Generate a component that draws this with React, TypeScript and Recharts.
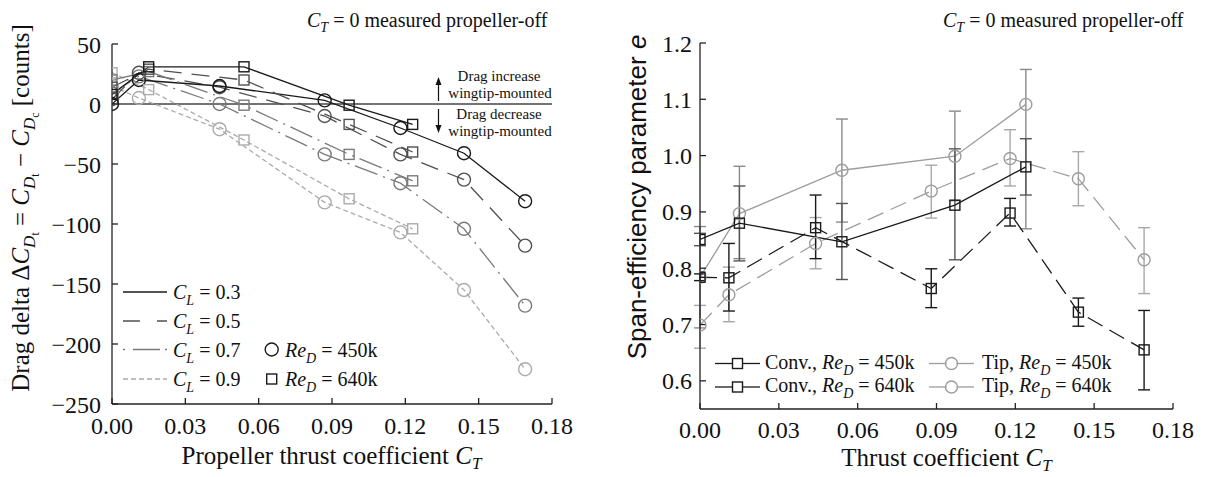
import React from 'react';
import { LineChart, Line, XAxis, YAxis, ReferenceLine, ErrorBar } from 'recharts';

const SERIF = '"Liberation Serif", "Times New Roman", serif';
const SANS = '"Liberation Sans", Arial, sans-serif';

// ---------- Left panel: drag delta (counts) ----------
const ctCircleA = [0, 0.011, 0.044, 0.087, 0.118, 0.144, 0.169];
const ctSquareA = [0, 0.015, 0.054, 0.097, 0.123];
const cl03Circle = [0, 20, 15, 3, -20, -41, -81];
const cl05Circle = [4, 26, 14, -10, -42, -63, -118];
const cl07Circle = [9, 23, 0, -42, -66, -104, -168];
const cl09Circle = [15, 5, -21, -82, -107, -155, -221];
const cl03Square = [8, 31, 31, -1, -17];
const cl05Square = [14, 29, 20, -17, -40];
const cl07Square = [20, 27, -1, -42, -64];
const cl09Square = [26, 12, -30, -79, -104];
const xTicks = [0, 0.03, 0.06, 0.09, 0.12, 0.15, 0.18];
const yTicksA = [-250, -200, -150, -100, -50, 0, 50];
const clLabels = ['0.3', '0.5', '0.7', '0.9'];

// ---------- Right panel: span efficiency ----------
const ctConv450 = [0, 0.011, 0.044, 0.088, 0.118, 0.144, 0.169];
const eConv450 = [0.784, 0.783, 0.872, 0.764, 0.898, 0.722, 0.655];
const loConv450 = [0.778, 0.724, 0.817, 0.730, 0.875, 0.697, 0.584];
const hiConv450 = [0.790, 0.844, 0.930, 0.799, 0.924, 0.747, 0.725];
const ctConv640 = [0, 0.015, 0.054, 0.097, 0.124];
const eConv640 = [0.851, 0.880, 0.847, 0.912, 0.980];
const loConv640 = [0.840, 0.813, 0.780, 0.815, 0.930];
const hiConv640 = [0.862, 0.946, 0.915, 1.012, 1.030];
const ctTip450 = [0, 0.011, 0.044, 0.088, 0.118, 0.144, 0.169];
const eTip450 = [0.699, 0.753, 0.844, 0.937, 0.995, 0.959, 0.815];
const loTip450 = [0.658, 0.705, 0.799, 0.889, 0.946, 0.911, 0.755];
const hiTip450 = [0.734, 0.802, 0.890, 0.983, 1.046, 1.007, 0.872];
const ctTip640 = [0, 0.015, 0.054, 0.097, 0.124];
const eTip640 = [0.784, 0.897, 0.974, 0.999, 1.091];
const loTip640 = [0.694, 0.817, 0.882, 0.920, 0.870];
const hiTip640 = [0.874, 0.981, 1.065, 1.079, 1.153];
const yTicksB = [0.6, 0.7, 0.8, 0.9, 1.0, 1.1, 1.2];

const zip = (xs: number[], ys: number[]) => xs.map((x, i) => ({ x, y: ys[i] }));
const zipErr = (xs: number[], ys: number[], lo: number[], hi: number[]) =>
  xs.map((x, i) => ({ x, y: ys[i], err: [ys[i] - lo[i], hi[i] - ys[i]] }));

const circleDot = (color: string, r: number) => (p: any) => {
  if (p.cx == null || p.cy == null) return <g key={`n${p.index}`} />;
  return <circle key={`c${p.index}`} cx={p.cx} cy={p.cy} r={r} fill="none" stroke={color} strokeWidth={1.4} />;
};
const squareDot = (color: string, s: number) => (p: any) => {
  if (p.cx == null || p.cy == null) return <g key={`n${p.index}`} />;
  return <rect key={`s${p.index}`} x={p.cx - s / 2} y={p.cy - s / 2} width={s} height={s} fill="none" stroke={color} strokeWidth={1.4} />;
};

const fmtA = (v: number) => (v < 0 ? '\u2212' + Math.abs(v) : String(v));
const fmtX = (v: number) => v.toFixed(2);
const fmtB = (v: number) => v.toFixed(1);

const leftSeries = [
  { c: cl09Circle, s: cl09Square, color: '#ababab', dash: '5 3', legendDash: '5 3' },
  { c: cl07Circle, s: cl07Square, color: '#7a7a7a', dash: '24 6 2 6', legendDash: '2 8 27 5 2 20' },
  { c: cl05Circle, s: cl05Square, color: '#505050', dash: '18 10', legendDash: '17 17 20' },
  { c: cl03Circle, s: cl03Square, color: '#1a1a1a', dash: undefined as any, legendDash: undefined as any },
];

const tickStyle = { fontSize: 24, fontFamily: SERIF, fill: '#111' };
const axisStroke = '#222';

function LeftChart() {
  return (
    <LineChart width={600} height={477} margin={{ top: 44, right: 48, bottom: 0, left: 0 }}>
      <XAxis type="number" dataKey="x" domain={[0, 0.18]} ticks={xTicks} tickFormatter={fmtX} height={73}
        tickSize={-6} tickMargin={19} tick={tickStyle} stroke={axisStroke} strokeWidth={1.3} allowDataOverflow />
      <XAxis xAxisId="top" orientation="top" type="number" dataKey="x" domain={[0, 0.18]} ticks={xTicks} height={0}
        tickSize={-6} tick={false} stroke={axisStroke} strokeWidth={1.3} allowDataOverflow />
      <YAxis type="number" domain={[-250, 50]} ticks={yTicksA} tickFormatter={fmtA} width={112}
        tickSize={-6} tickMargin={17} tick={tickStyle} stroke={axisStroke} strokeWidth={1.3} allowDataOverflow />
      <YAxis yAxisId="right" orientation="right" type="number" domain={[-250, 50]} ticks={yTicksA} width={0}
        tickSize={-6} tick={false} stroke={axisStroke} strokeWidth={1.3} allowDataOverflow />
      <ReferenceLine y={0} stroke="#444" strokeWidth={1.3} />
      {leftSeries.map((s, i) => (
        <Line key={`c${i}`} data={zip(ctCircleA, s.c)} dataKey="y" type="linear" stroke={s.color} strokeWidth={1.3}
          strokeDasharray={s.dash} dot={circleDot(s.color, 6.5)} activeDot={false} isAnimationActive={false} />
      ))}
      {leftSeries.map((s, i) => (
        <Line key={`s${i}`} data={zip(ctSquareA, s.s)} dataKey="y" type="linear" stroke={s.color} strokeWidth={1.3}
          strokeDasharray={s.dash} dot={squareDot(s.color, 10)} activeDot={false} isAnimationActive={false} />
      ))}
    </LineChart>
  );
}

const rightSeries = [
  { name: 'Tip', re: '450k', xs: ctTip450, ys: eTip450, lo: loTip450, hi: hiTip450, color: '#9d9d9d', err: '#a8a8a8', dash: '17 8', marker: 'c' },
  { name: 'Tip', re: '640k', xs: ctTip640, ys: eTip640, lo: loTip640, hi: hiTip640, color: '#9d9d9d', err: '#8a8a8a', dash: undefined as any, marker: 'c' },
  { name: 'Conv.', re: '450k', xs: ctConv450, ys: eConv450, lo: loConv450, hi: hiConv450, color: '#1a1a1a', err: '#1a1a1a', dash: '17 8', marker: 's' },
  { name: 'Conv.', re: '640k', xs: ctConv640, ys: eConv640, lo: loConv640, hi: hiConv640, color: '#1a1a1a', err: '#555555', dash: undefined as any, marker: 's' },
];

function RightChart() {
  return (
    <LineChart width={611} height={477} margin={{ top: 43, right: 50, bottom: 0, left: 0 }}>
      <XAxis type="number" dataKey="x" domain={[0, 0.18]} ticks={xTicks} tickFormatter={fmtX} height={68}
        tickSize={-6} tickMargin={18} tick={tickStyle} stroke={axisStroke} strokeWidth={1.3} allowDataOverflow />
      <XAxis xAxisId="top" orientation="top" type="number" dataKey="x" domain={[0, 0.18]} ticks={xTicks} height={0}
        tickSize={-6} tick={false} stroke={axisStroke} strokeWidth={1.3} allowDataOverflow />
      <YAxis type="number" domain={[0.55, 1.2]} ticks={yTicksB} tickFormatter={fmtB} width={88}
        tickSize={-6} tickMargin={14} tick={tickStyle} stroke={axisStroke} strokeWidth={1.3} allowDataOverflow />
      <YAxis yAxisId="right" orientation="right" type="number" domain={[0.55, 1.2]} ticks={yTicksB} width={0}
        tickSize={-6} tick={false} stroke={axisStroke} strokeWidth={1.3} allowDataOverflow />
      {rightSeries.map((s, i) => (
        <Line key={`r${i}`} data={zipErr(s.xs, s.ys, s.lo, s.hi)} dataKey="y" type="linear" stroke={s.color}
          strokeWidth={1.3} strokeDasharray={s.dash}
          dot={s.marker === 'c' ? circleDot(s.color, 6) : squareDot(s.color, 10)}
          activeDot={false} isAnimationActive={false}>
          <ErrorBar dataKey="err" direction="y" width={6} stroke={s.err} strokeWidth={1.4} isAnimationActive={false} />
        </Line>
      ))}
    </LineChart>
  );
}

const Sub = ({ children, size, dy }: any) => (
  <tspan fontSize={size} dy={dy} fontStyle="italic">{children}</tspan>
);

function Overlay() {
  const leftRows = [292, 321, 349.5, 379];
  const legendOrder = [3, 2, 1, 0];
  const rightLegend = [
    { si: 2, col: 0, row: 0 },
    { si: 3, col: 0, row: 1 },
    { si: 0, col: 1, row: 0 },
    { si: 1, col: 1, row: 1 },
  ];
  const rRows = [363.5, 387];
  const rCols = [{ x1: 715, x2: 760, m: 737.5, t: 765 }, { x1: 929, x2: 974, m: 951.5, t: 982 }];
  return (
    <svg width={1223} height={477} style={{ position: 'absolute', left: 0, top: 0, pointerEvents: 'none' }}>
      {/* top annotations */}
      <text x={307} y={27} fontFamily={SERIF} fontSize={20} fill="#111">
        <tspan fontStyle="italic">C</tspan><Sub size={14} dy={5}>T</Sub><tspan dy={-5}> = 0 measured propeller-off</tspan>
      </text>
      <text x={943} y={27} fontFamily={SERIF} fontSize={20} fill="#111">
        <tspan fontStyle="italic">C</tspan><Sub size={14} dy={5}>T</Sub><tspan dy={-5}> = 0 measured propeller-off</tspan>
      </text>
      {/* axis titles */}
      <text x={331.5} y={464} textAnchor="middle" fontFamily={SERIF} fontSize={25} fill="#111">
        Propeller thrust coefficient <tspan fontStyle="italic">C</tspan><Sub size={17} dy={5}>T</Sub>
      </text>
      <text x={946.5} y={466} textAnchor="middle" fontFamily={SERIF} fontSize={25} fill="#111">
        Thrust coefficient <tspan fontStyle="italic">C</tspan><Sub size={17} dy={5}>T</Sub>
      </text>
      <text transform="translate(29,208) rotate(-90)" textAnchor="middle" fontFamily={SERIF} fontSize={25} fill="#111">
        Drag delta Δ<tspan fontStyle="italic">C</tspan><Sub size={17} dy={6}>D</Sub><tspan fontSize={12} dy={4}>t</tspan>
        <tspan dy={-10}> = </tspan><tspan fontStyle="italic">C</tspan><Sub size={17} dy={6}>D</Sub><tspan fontSize={12} dy={4}>t</tspan>
        <tspan dy={-10}> − </tspan><tspan fontStyle="italic">C</tspan><Sub size={17} dy={6}>D</Sub><tspan fontSize={12} dy={4}>c</tspan>
        <tspan dy={-10}>  [counts]</tspan>
      </text>
      <text transform="translate(646,197) rotate(-90)" textAnchor="middle" fontFamily={SANS} fontSize={26} fill="#111">
        Span-efficiency parameter <tspan fontStyle="italic">e</tspan>
      </text>
      {/* drag increase / decrease annotation */}
      <text x={499} y={81} textAnchor="middle" fontFamily={SERIF} fontSize={15} fill="#111">Drag increase</text>
      <text x={500} y={98} textAnchor="middle" fontFamily={SERIF} fontSize={15} fill="#111">wingtip-mounted</text>
      <text x={499} y={119} textAnchor="middle" fontFamily={SERIF} fontSize={15} fill="#111">Drag decrease</text>
      <text x={500} y={136} textAnchor="middle" fontFamily={SERIF} fontSize={15} fill="#111">wingtip-mounted</text>
      <line x1={438.5} y1={101} x2={438.5} y2={83} stroke="#111" strokeWidth={1.2} />
      <polygon points="438.5,77 435.5,85 441.5,85" fill="#111" />
      <line x1={438.5} y1={109} x2={438.5} y2={127} stroke="#111" strokeWidth={1.2} />
      <polygon points="438.5,133 435.5,125 441.5,125" fill="#111" />
      {/* left legend */}
      {legendOrder.map((si, r) => {
        const s = leftSeries[si];
        const y = leftRows[r];
        return (
          <g key={`ll${r}`}>
            <line x1={123} x2={167} y1={y} y2={y} stroke={s.color} strokeWidth={1.3} strokeDasharray={s.legendDash} />
            <text x={173} y={y + 7} fontFamily={SERIF} fontSize={20} fill="#111">
              <tspan fontStyle="italic">C</tspan><Sub size={14} dy={6}>L</Sub><tspan dy={-6}> = {clLabels[r]}</tspan>
            </text>
          </g>
        );
      })}
      <circle cx={271.7} cy={349.5} r={6.5} fill="none" stroke="#1a1a1a" strokeWidth={1.4} />
      <text x={285} y={356.5} fontFamily={SERIF} fontSize={20} fill="#111">
        <tspan fontStyle="italic">Re</tspan><Sub size={14} dy={6}>D</Sub><tspan dy={-6}> = 450k</tspan>
      </text>
      <rect x={266.7} y={374} width={10} height={10} fill="none" stroke="#1a1a1a" strokeWidth={1.4} />
      <text x={285} y={386} fontFamily={SERIF} fontSize={20} fill="#111">
        <tspan fontStyle="italic">Re</tspan><Sub size={14} dy={6}>D</Sub><tspan dy={-6}> = 640k</tspan>
      </text>
      {/* right legend */}
      {rightLegend.map((l, k) => {
        const s = rightSeries[l.si];
        const c = rCols[l.col];
        const y = rRows[l.row];
        return (
          <g key={`rl${k}`}>
            <line x1={c.x1} x2={c.m - 5} y1={y} y2={y} stroke={s.color} strokeWidth={1.3} />
            <line x1={c.m + 5} x2={c.x2} y1={y} y2={y} stroke={s.color} strokeWidth={1.3} />
            {s.marker === 'c'
              ? <circle cx={c.m} cy={y} r={6} fill="none" stroke={s.color} strokeWidth={1.4} />
              : <rect x={c.m - 5} y={y - 5} width={10} height={10} fill="none" stroke={s.color} strokeWidth={1.4} />}
            <text x={c.t} y={y + 5} fontFamily={SERIF} fontSize={20} fill="#111">
              {s.name}, <tspan fontStyle="italic">Re</tspan><Sub size={14} dy={6}>D</Sub><tspan dy={-6}> = {s.re}</tspan>
            </text>
          </g>
        );
      })}
    </svg>
  );
}

export default function App() {
  return (
    <div style={{ position: 'absolute', left: 0, top: 0, width: 1223, height: 477, background: '#fff', overflow: 'hidden' }}>
      <div style={{ position: 'absolute', left: 0, top: 0 }}>
        <LeftChart />
      </div>
      <div style={{ position: 'absolute', left: 612, top: 0 }}>
        <RightChart />
      </div>
      <Overlay />
    </div>
  );
}
